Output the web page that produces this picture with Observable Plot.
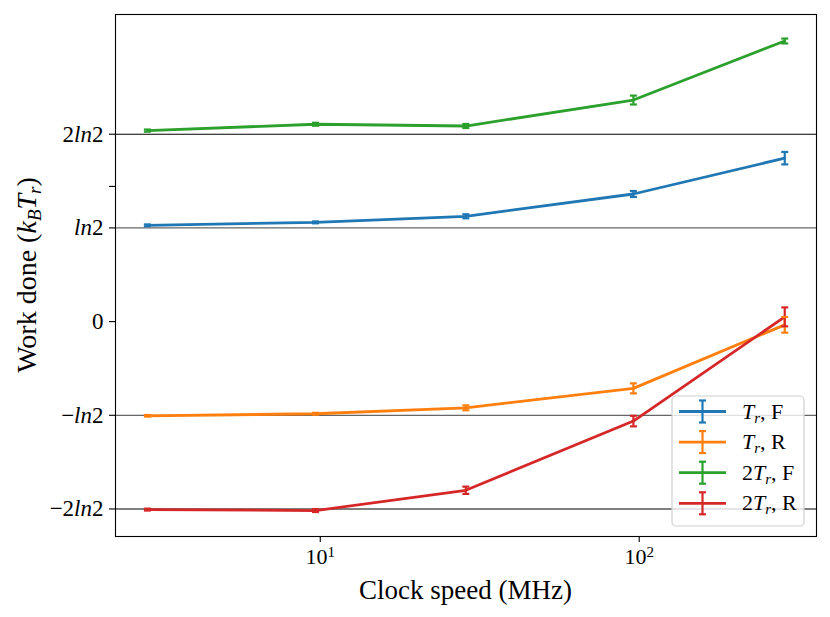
<!DOCTYPE html>
<html><head><meta charset="utf-8">
<script src="https://cdn.jsdelivr.net/npm/d3@7"></script>
<script src="https://cdn.jsdelivr.net/npm/@observablehq/plot@0.6"></script>
<style>body{margin:0;background:#fff}</style>
</head><body><div id="chart"></div>
<script>
const LN2 = Math.LN2;
const clockMHz = [2.87, 9.66, 28.6, 95.9, 286];
const seriesNames = ["Tr, F", "Tr, R", "2Tr, F", "2Tr, R"];
const workTrF = [0.712, 0.734, 0.779, 0.944, 1.209];
const errTrF = [0.007, 0.007, 0.015, 0.022, 0.046];
const workTrR = [-0.697, -0.682, -0.638, -0.494, -0.024];
const errTrR = [0.006, 0.007, 0.018, 0.037, 0.058];
const work2TrF = [1.413, 1.460, 1.447, 1.639, 2.076];
const err2TrF = [0.008, 0.011, 0.015, 0.033, 0.018];
const work2TrR = [-1.391, -1.398, -1.248, -0.736, 0.035];
const err2TrR = [0.007, 0.011, 0.027, 0.039, 0.070];
const seriesColors = ["#1f77b4", "#ff7f0e", "#2ca02c", "#d62728"];
const yTickValues = [-2 * LN2, -LN2, 0, LN2, 1, 2 * LN2];
const yTickLabels = ["−2ln2", "−ln2", "0", "ln2", "", "2ln2"];
const xTickValues = [10, 100];
const xTickLabels = ["10^1", "10^2"];
const blackLines = [2 * LN2, -2 * LN2];
const grayLines = [LN2, -LN2];

const allWork = [workTrF, workTrR, work2TrF, work2TrR];
const allErr = [errTrF, errTrR, err2TrF, err2TrR];
const rows = [];
seriesNames.forEach((s, k) => clockMHz.forEach((x, i) => rows.push({s, x, y: allWork[k][i], e: allErr[k][i]})));

const capSymbol = {draw(ctx, size) { const w = Math.sqrt(size / Math.PI); ctx.moveTo(-w, 0); ctx.lineTo(w, 0); }};

const plot = Plot.plot({
  width: 830, height: 617,
  marginLeft: 115, marginRight: 14, marginTop: 14, marginBottom: 81,
  x: {type: "log", domain: [2.28, 359.7]},
  y: {domain: [-1.59, 2.272]},
  color: {domain: seriesNames, range: seriesColors},
  style: {fontFamily: "'Liberation Serif', serif", fontSize: "22px", color: "#000", background: "#fff"},
  marks: [
    Plot.ruleY(blackLines, {stroke: "#000", strokeWidth: 1.1}),
    Plot.ruleY(grayLines, {stroke: "#666", strokeWidth: 1.3}),
    Plot.line(rows, {x: "x", y: "y", z: "s", stroke: "s", strokeWidth: 2.8}),
    Plot.ruleX(rows, {x: "x", y1: d => d.y - d.e, y2: d => d.y + d.e, stroke: "s", strokeWidth: 2.2}),
    Plot.dot(rows, {x: "x", y: d => d.y + d.e, symbol: capSymbol, r: 3.5, stroke: "s", strokeWidth: 2.2, fill: "none"}),
    Plot.dot(rows, {x: "x", y: d => d.y - d.e, symbol: capSymbol, r: 3.5, stroke: "s", strokeWidth: 2.2, fill: "none"}),
    Plot.axisX({ticks: xTickValues, tickFormat: d => xTickLabels[xTickValues.indexOf(d)], tickSize: 6, tickPadding: 6, label: null, fontSize: 22, strokeWidth: 1.1}),
    Plot.axisY({ticks: yTickValues, tickFormat: d => yTickLabels[yTickValues.indexOf(d)], tickSize: 6, tickPadding: 6, label: null, fontSize: 23, strokeWidth: 1.1}),
    Plot.frame({stroke: "#000", strokeWidth: 1.1})
  ]
});
document.getElementById("chart").appendChild(plot);

const svg = d3.select(plot);
// y tick labels with italic "ln"
svg.selectAll("g[aria-label='y-axis tick label'] text").each(function() {
  const t = d3.select(this);
  const s = t.text();
  if (s.includes("ln")) {
    const [a, b] = s.split("ln");
    t.text(null);
    t.append("tspan").text(a);
    t.append("tspan").attr("font-style", "italic").text("ln");
    t.append("tspan").text(b);
  }
});
// x tick labels with superscript
svg.selectAll("g[aria-label='x-axis tick label'] text").each(function() {
  const t = d3.select(this);
  const s = t.text();
  if (s.includes("^")) {
    const [a, b] = s.split("^");
    t.text(null);
    t.append("tspan").text(a);
    t.append("tspan").attr("dy", "-0.45em").attr("font-size", "15px").text(b);
  }
});

// axis labels
const xr = plot.scale("x").range, yr = plot.scale("y").range;
svg.append("text").attr("x", (xr[0] + xr[1]) / 2).attr("y", 599).attr("text-anchor", "middle")
  .attr("font-size", "27px").attr("fill", "#000").text("Clock speed (MHz)");
const yl = svg.append("text").attr("transform", `translate(36,${(yr[0] + yr[1]) / 2}) rotate(-90)`)
  .attr("text-anchor", "middle").attr("font-size", "28px").attr("fill", "#000");
yl.append("tspan").text("Work done (");
yl.append("tspan").attr("font-style", "italic").text("k");
yl.append("tspan").attr("font-style", "italic").attr("font-size", "19px").attr("dy", "5").text("B");
yl.append("tspan").attr("font-style", "italic").attr("dy", "-5").text("T");
yl.append("tspan").attr("font-style", "italic").attr("font-size", "19px").attr("dy", "5").text("r");
yl.append("tspan").attr("dy", "-5").text(")");

// legend
const lg = svg.append("g").attr("font-size", "22px").attr("text-anchor", "start");
lg.append("rect").attr("x", 672).attr("y", 396).attr("width", 132).attr("height", 130).attr("rx", 4)
  .attr("fill", "#fff").attr("fill-opacity", 0.8).attr("stroke", "#d0d0d0").attr("stroke-width", 1.2);
const legendParts = [["", "F"], ["", "R"], ["2", "F"], ["2", "R"]];
seriesNames.forEach((s, k) => {
  const cy = 411.5 + k * 30.6;
  const c = seriesColors[k];
  lg.append("line").attr("x1", 679).attr("x2", 726).attr("y1", cy).attr("y2", cy).attr("stroke", c).attr("stroke-width", 2.8);
  lg.append("line").attr("x1", 702.5).attr("x2", 702.5).attr("y1", cy - 11).attr("y2", cy + 11).attr("stroke", c).attr("stroke-width", 2.2);
  [-11, 11].forEach(o => lg.append("line").attr("x1", 699).attr("x2", 706).attr("y1", cy + o).attr("y2", cy + o).attr("stroke", c).attr("stroke-width", 2.2));
  const t = lg.append("text").attr("x", 742).attr("y", cy + 7).attr("fill", "#000").attr("text-anchor", "start");
  const [pre, dir] = legendParts[k];
  if (pre) t.append("tspan").text(pre);
  t.append("tspan").attr("font-style", "italic").text("T");
  t.append("tspan").attr("font-style", "italic").attr("font-size", "15px").attr("dy", "4").text("r");
  t.append("tspan").attr("dy", "-4").text(", " + dir);
});
</script>
</body></html>
